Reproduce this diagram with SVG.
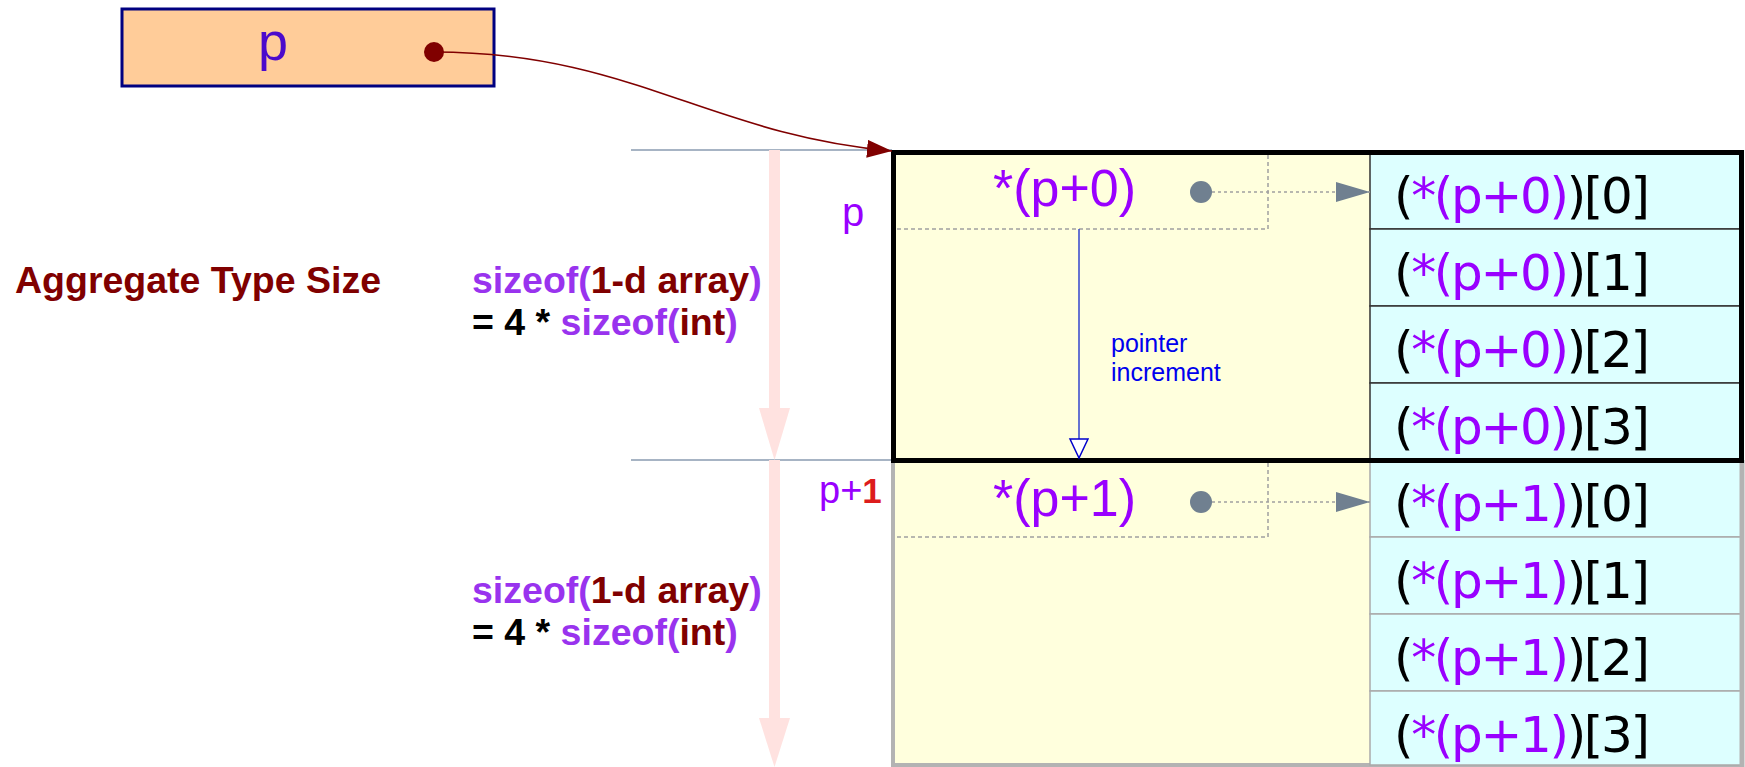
<svg xmlns="http://www.w3.org/2000/svg" width="1745" height="767" viewBox="0 0 1745 767">
<style>
.sans{font-family:"Liberation Sans",Arial,sans-serif}
.dv{font-family:"DejaVu Sans",sans-serif;font-size:50px;fill:#000}
.pu{fill:#9900ff}
.mr{fill:#800000}
.sz{fill:#9933ee}
.bold{font-weight:bold;font-size:37.5px}
.cell1{fill:#ddffff;stroke:#333;stroke-width:1.5}
.cell2{fill:#ddffff;stroke:#aaa;stroke-width:1.5}
.dash{fill:none;stroke:#a0a0a0;stroke-width:1.5;stroke-dasharray:4 3}
.dot{fill:none;stroke:#a0a0a0;stroke-width:1.5;stroke-dasharray:3 3}
.guide{stroke:#8a9bb0;stroke-width:1.5}
.pink{stroke:#ffe2e0;stroke-width:11}
</style>
<defs>
<marker id="mArrow" markerWidth="26" markerHeight="20" refX="25" refY="9" orient="auto" markerUnits="userSpaceOnUse">
<path d="M0,0 L25,9 L0,18 Z" fill="#800000"/>
</marker>
<marker id="gArrow" markerWidth="36" markerHeight="22" refX="34" refY="10" orient="auto" markerUnits="userSpaceOnUse">
<path d="M0,0 L34,10 L0,20 Z" fill="#708090"/>
</marker>
<marker id="bArrow" markerWidth="24" markerHeight="24" refX="20" refY="10" orient="auto" markerUnits="userSpaceOnUse">
<path d="M1,1 L20,10 L1,19 Z" fill="#fff" stroke="#0000cc" stroke-width="1.5"/>
</marker>
</defs>

<g id="labels">
<text class="sans bold mr" x="15" y="293">Aggregate Type Size</text>
<text class="sans bold" x="472" y="293"><tspan class="sz">sizeof(</tspan><tspan class="mr">1-d array</tspan><tspan class="sz">)</tspan></text>
<text class="sans bold" x="472" y="335"><tspan fill="#000">= 4 * </tspan><tspan class="sz">sizeof(</tspan><tspan class="mr">int</tspan><tspan class="sz">)</tspan></text>
<text class="sans bold" x="472" y="603"><tspan class="sz">sizeof(</tspan><tspan class="mr">1-d array</tspan><tspan class="sz">)</tspan></text>
<text class="sans bold" x="472" y="645"><tspan fill="#000">= 4 * </tspan><tspan class="sz">sizeof(</tspan><tspan class="mr">int</tspan><tspan class="sz">)</tspan></text>
<text class="sans pu" x="842" y="226" font-size="40">p</text>
<text class="sans" x="819" y="503" font-size="38"><tspan class="pu">p+</tspan><tspan fill="#dd1c1c" font-weight="bold" font-size="35">1</tspan></text>
</g>

<g id="guides">
<line class="guide" x1="631" y1="150" x2="892" y2="150"/>
<line class="guide" x1="631" y1="460" x2="892" y2="460"/>
<line class="pink" x1="774.5" y1="150" x2="774.5" y2="412"/>
<path d="M759,408 L790,408 L774.5,460 Z" fill="#ffe2e0"/>
<line class="pink" x1="774.5" y1="460" x2="774.5" y2="722"/>
<path d="M759,718 L790,718 L774.5,767 Z" fill="#ffe2e0"/>
</g>

<g id="pointer-p">
<rect x="122" y="9" width="372" height="77" fill="#ffcc99" stroke="#000080" stroke-width="3"/>
<text class="sans" x="273" y="60" font-size="54" fill="#4b0acc" text-anchor="middle">p</text>
<circle cx="434" cy="52" r="10" fill="#800000"/>
</g>

<g id="block2">
<rect x="893" y="460" width="849" height="305" fill="#ffffdd" stroke="#b3b3b3" stroke-width="4"/>
<rect class="cell2" x="1370" y="460" width="372" height="77"/>
<rect class="cell2" x="1370" y="537" width="372" height="77"/>
<rect class="cell2" x="1370" y="614" width="372" height="77"/>
<rect class="cell2" x="1370" y="691" width="372" height="74"/>
<line x1="1742" y1="460" x2="1742" y2="767" stroke="#b3b3b3" stroke-width="5"/>
<path class="dash" d="M897,537 H1268 V462"/>
<text class="sans pu" x="993" y="516" font-size="52">*(p+1)</text>
<circle cx="1201" cy="502" r="11" fill="#708090"/>
<text class="dv" x="1394" y="521" textLength="256" lengthAdjust="spacing">(<tspan class="pu">*(p+1)</tspan>)[0]</text>
<text class="dv" x="1394" y="598" textLength="256" lengthAdjust="spacing">(<tspan class="pu">*(p+1)</tspan>)[1]</text>
<text class="dv" x="1394" y="675" textLength="256" lengthAdjust="spacing">(<tspan class="pu">*(p+1)</tspan>)[2]</text>
<text class="dv" x="1394" y="752" textLength="256" lengthAdjust="spacing">(<tspan class="pu">*(p+1)</tspan>)[3]</text>
</g>

<g id="block1">
<rect x="893.5" y="152.5" width="848" height="308" fill="#ffffdd"/>
<rect class="cell1" x="1370" y="152" width="372" height="77"/>
<rect class="cell1" x="1370" y="229" width="372" height="77"/>
<rect class="cell1" x="1370" y="306" width="372" height="77"/>
<rect class="cell1" x="1370" y="383" width="372" height="77"/>
<rect x="893.5" y="152.5" width="848" height="308" fill="none" stroke="#000" stroke-width="5"/>
<path class="dash" d="M897,229 H1268 V155"/>
<text class="sans pu" x="993" y="206" font-size="52">*(p+0)</text>
<circle cx="1201" cy="192" r="11" fill="#708090"/>
<text class="dv" x="1394" y="213" textLength="256" lengthAdjust="spacing">(<tspan class="pu">*(p+0)</tspan>)[0]</text>
<text class="dv" x="1394" y="290" textLength="256" lengthAdjust="spacing">(<tspan class="pu">*(p+0)</tspan>)[1]</text>
<text class="dv" x="1394" y="367" textLength="256" lengthAdjust="spacing">(<tspan class="pu">*(p+0)</tspan>)[2]</text>
<text class="dv" x="1394" y="444" textLength="256" lengthAdjust="spacing">(<tspan class="pu">*(p+0)</tspan>)[3]</text>
<text class="sans" x="1111" y="352" font-size="25" fill="#0000ee">pointer</text>
<text class="sans" x="1111" y="381" font-size="25" fill="#0000ee">increment</text>
</g>

<g id="connectors">
<path d="M434,52 C630,52 710,135 892,151" fill="none" stroke="#800000" stroke-width="1.6" marker-end="url(#mArrow)"/>
<line class="dot" x1="1212" y1="192" x2="1370" y2="192" marker-end="url(#gArrow)"/>
<line class="dot" x1="1212" y1="502" x2="1370" y2="502" marker-end="url(#gArrow)"/>
<line x1="1079" y1="229" x2="1079" y2="458" stroke="#3344cc" stroke-width="1.5" marker-end="url(#bArrow)"/>
</g>
</svg>
